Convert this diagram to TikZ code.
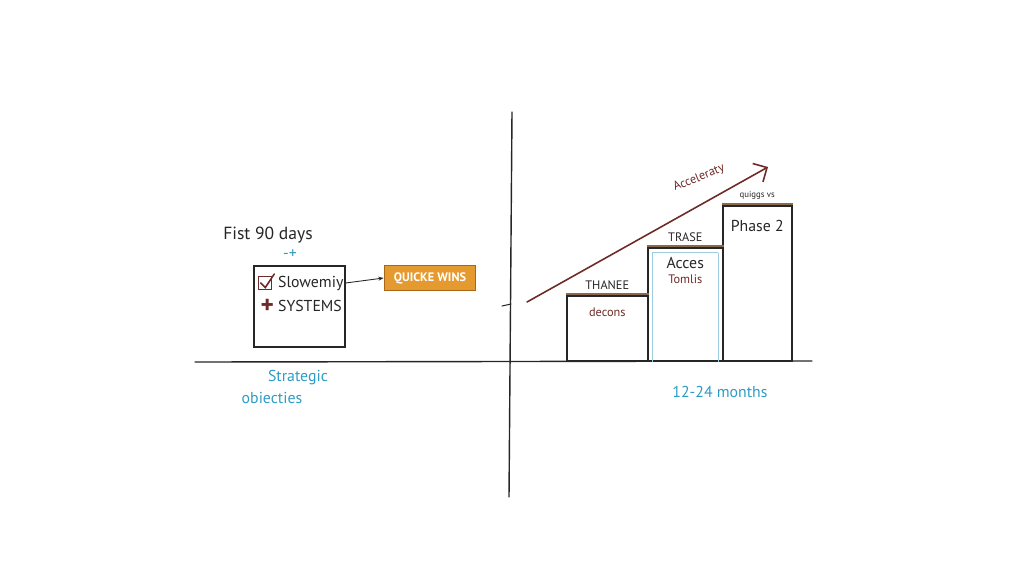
\documentclass[tikz,border=0pt]{standalone}
\usepackage{fontspec}
\setmainfont{PT Sans}
\usetikzlibrary{positioning,arrows.meta}

\definecolor{ink}{HTML}{262626}
\definecolor{rust}{HTML}{6E2A26}
\definecolor{marker}{HTML}{2E9BC4}
\definecolor{wins}{HTML}{E49A2E}
\definecolor{winsedge}{HTML}{A8661A}
\definecolor{capline}{HTML}{8A6A4A}
\definecolor{glass}{HTML}{9CCDE0}

\begin{document}
\begin{tikzpicture}[
    x=0.02cm, y=-0.02cm,
    node distance=0.1cm,
    every node/.style={text=ink, inner sep=1pt},
    pen/.style={draw=ink, line width=0.8pt, line cap=round},
    goalbox/.style={draw=ink, line width=1pt, minimum width=1.82cm, minimum height=1.62cm},
    item/.style={font=\small, anchor=west},
    winbox/.style={draw=winsedge, fill=wins, line width=1pt, minimum width=1.82cm, minimum height=0.5cm, text=white, font=\scriptsize\bfseries},
    bar/.style={draw=ink, line width=0.9pt, anchor=south west},
    barlabel/.style={font=\scriptsize},
    note/.style={font=\scriptsize, text=rust},
    tealnote/.style={font=\small, text=marker}
]
\useasboundingbox (0,0) rectangle (1024,576);

% axes
\coordinate (vtop) at (512,112);
\coordinate (vbot) at (509,497);
\coordinate (hleft) at (195,362);
\coordinate (hright) at (812,361);
\draw[pen] (vtop) -- (vbot);
\draw[pen] (hleft) -- (hright);

% left side
\node (days) at (268,235) {Fist 90 days};
\node[text=marker, font=\small] (mark) at (290,254) {-+};
\node[goalbox] (goals) at (299.5,306.5) {};
\node[item] (slow) at (276,283) {Slowemiy};
\node[draw=rust, line width=0.8pt, minimum size=0.26cm, left=2pt of slow] (tick) {};
\draw[rust, line width=0.9pt, line cap=round] ([xshift=1.5pt]tick.west) -- ([yshift=1.5pt]tick.south) -- ([xshift=1pt,yshift=1pt]tick.north east);
\node[item] (sys) at (276,306) {SYSTEMS};
\node[text=rust, font=\Large\bfseries, left=0pt of sys] (plus) {+};

\node[winbox] (quick) at (430,278) {QUICKE WINS};
\draw[pen, line width=0.5pt, -{Stealth[length=3pt]}] (slow.east) -- (quick.west);

\node[tealnote] (strat) at (298,378) {Strategic};
\node[tealnote] (obj) at (272,398) {obiecties};

% right side bars
\node[bar, minimum width=1.62cm, minimum height=1.3cm] (bar1) at (566,362) {};
\node[bar, minimum width=1.5cm, minimum height=2.26cm] (bar2) at (647,362) {};
\node[bar, minimum width=1.38cm, minimum height=3.1cm] (bar3) at (722,362) {};
\draw[glass, line width=0.8pt] ([xshift=3pt,yshift=-3pt]bar2.north west) -- ([xshift=3pt]bar2.south west);
\draw[glass, line width=0.8pt] ([xshift=-3pt,yshift=-3pt]bar2.north east) -- ([xshift=-3pt]bar2.south east);
\draw[glass, line width=0.8pt] ([xshift=3pt,yshift=-3pt]bar2.north west) -- ([xshift=-3pt,yshift=-3pt]bar2.north east);
\foreach \b in {bar1,bar2,bar3}
  \draw[capline, line width=1pt] ([yshift=1pt]\b.north west) -- ([yshift=1pt]\b.north east);

\node[barlabel, above=2pt of bar1] (thanee) {THANEE};
\node[note, below=0.2cm of bar1.north] (decons) {decons};
\node[barlabel, above=2pt of bar2] (trase) {TRASE};
\node[font=\small, below=0.15cm of bar2.north] (acces) {Acces};
\node[note, below=1pt of acces] (tomlis) {Tomlis};
\node[note, font=\tiny, text=ink, above=2pt of bar3] (quiggs) {quiggs vs};
\node[font=\small, below=0.25cm of bar3.north] (phase) {Phase 2};

% growth arrow
\coordinate (gstart) at (527,302);
\coordinate (gend) at (768,167);
\draw[rust, line width=0.9pt, line cap=round, -{Straight Barb[length=6pt]}] (gstart) -- (gend);
\draw[pen, line width=0.6pt] (502,306) -- (511,304);
\node[note, rotate=22] (accel) at (699,178) {Acceleraty};

\node[tealnote] (months) at (720,392) {12-24 months};

\end{tikzpicture}
\end{document}
